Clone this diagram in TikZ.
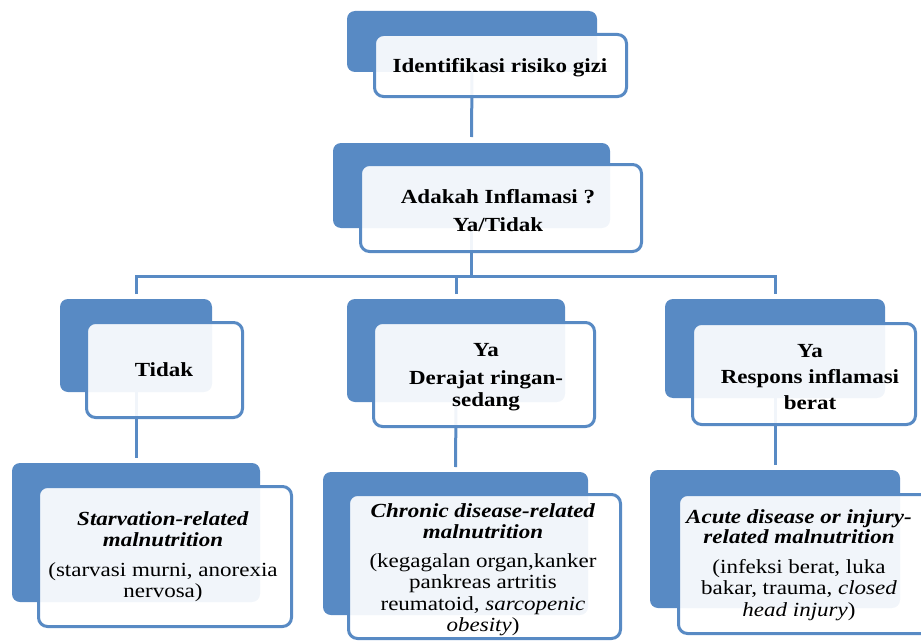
\documentclass[tikz,border=0pt]{standalone}
\usepackage{fontspec}
\setmainfont{Liberation Serif}[FakeStretch=1.15]
\definecolor{sblue}{RGB}{88,138,196}
\pgfdeclarelayer{bg}
\pgfsetlayers{bg,main}
\begin{document}
\begin{tikzpicture}[x=1pt,y=-1pt,
  conn/.style={draw=sblue, line width=3pt},
  backbox/.style={fill=sblue, rounded corners=8pt, inner sep=0pt, outer sep=0pt},
  frontbox/.style={draw=sblue, line width=3pt, fill=white, fill opacity=0.92, rounded corners=9pt, inner sep=0pt, outer sep=0pt},
  txt/.style={align=center, inner sep=0pt, text=black},
  fbig/.style={font=\fontsize{20}{#1}\selectfont}
]
\useasboundingbox (0,0) rectangle (921,642);
\clip (0,0) rectangle (921,642);
% back boxes
\node[backbox, minimum width=250pt, minimum height=61pt]  (b1) at (472,41.5) {};
\node[backbox, minimum width=277pt, minimum height=85pt]  (b2) at (471.5,185.5) {};
\node[backbox, minimum width=152pt, minimum height=93pt]  (b3) at (136,345.5) {};
\node[backbox, minimum width=218pt, minimum height=103pt] (b4) at (456,350.5) {};
\node[backbox, minimum width=220pt, minimum height=99pt]  (b5) at (775,348.5) {};
\node[backbox, minimum width=248pt, minimum height=139pt] (b6) at (136,532.5) {};
\node[backbox, minimum width=265pt, minimum height=143pt] (b7) at (455.5,543.5) {};
\node[backbox, minimum width=250pt, minimum height=138pt] (b8) at (775,539) {};
% front boxes
\node[frontbox, minimum width=252pt, minimum height=62pt]  (f1) at (500.5,65.5) {};
\node[frontbox, minimum width=281pt, minimum height=87pt]  (f2) at (501,208) {};
\node[frontbox, minimum width=156pt, minimum height=95pt]  (f3) at (164.5,370) {};
\node[frontbox, minimum width=221pt, minimum height=104pt] (f4) at (484,374.5) {};
\node[frontbox, minimum width=223pt, minimum height=101pt] (f5) at (804,374) {};
\node[frontbox, minimum width=253pt, minimum height=140pt] (f6) at (165,556.5) {};
\node[frontbox, minimum width=272pt, minimum height=144pt] (f7) at (484.5,566.5) {};
\node[frontbox, minimum width=255pt, minimum height=139pt] (f8) at (806,564) {};
% texts
\node[txt, fbig=24] (t1) at (500,67.5) {\textbf{Identifikasi risiko gizi}};
\node[txt, fbig=28] (t2) at (498,211) {\textbf{Adakah Inflamasi ?}\\\textbf{Ya/Tidak}};
\node[txt, fbig=24] (t3) at (164,370) {\textbf{Tidak}};
\node[txt, fbig=22] (t4) at (486,377) {\textbf{Ya}\\[6pt]\textbf{Derajat ringan-}\\\textbf{sedang}};
\node[txt, fbig=26] (t5) at (810,377) {\textbf{Ya}\\\textbf{Respons inflamasi}\\\textbf{berat}};
\node[txt, fbig=21] (t6) at (163,557) {\textbf{\textit{Starvation-related}}\\\textbf{\textit{malnutrition}}\\[9pt](starvasi murni, anorexia\\nervosa)};
\node[txt, fbig=21.5] (t7) at (483,570) {\textbf{\textit{Chronic disease-related}}\\[-1pt]\textbf{\textit{malnutrition}}\\[7.5pt](kegagalan organ,kanker\\pankreas artritis\\reumatoid, \textit{sarcopenic}\\\textit{obesity})};
\node[txt, fbig=21.5] (t8) at (799,565) {\textbf{\textit{Acute disease or injury-}}\\[-2pt]\textbf{\textit{related malnutrition}}\\[8.5pt](infeksi berat, luka\\bakar, trauma, \textit{closed}\\\textit{head injury})};
\coordinate (bar) at (0,276);
\begin{pgfonlayer}{bg}
\draw[conn, shorten >=6pt] (b1.south) -- (b2.north);
\draw[conn] (b2.south) -- (b2.south |- bar);
\draw[conn, shorten <=5pt, shorten >=5pt] (b3.north) -- (b3.north |- bar) -- (b5.north |- bar) -- (b5.north);
\draw[conn, shorten <=5pt] (b4.north) -- (b4.north |- bar);
\draw[conn, shorten >=5pt] (b3.south) -- (b6.north);
\draw[conn, shorten >=5pt] (b4.south) -- (b7.north);
\draw[conn, shorten >=5pt] (b5.south) -- (b8.north);
\end{pgfonlayer}
\end{tikzpicture}
\end{document}
